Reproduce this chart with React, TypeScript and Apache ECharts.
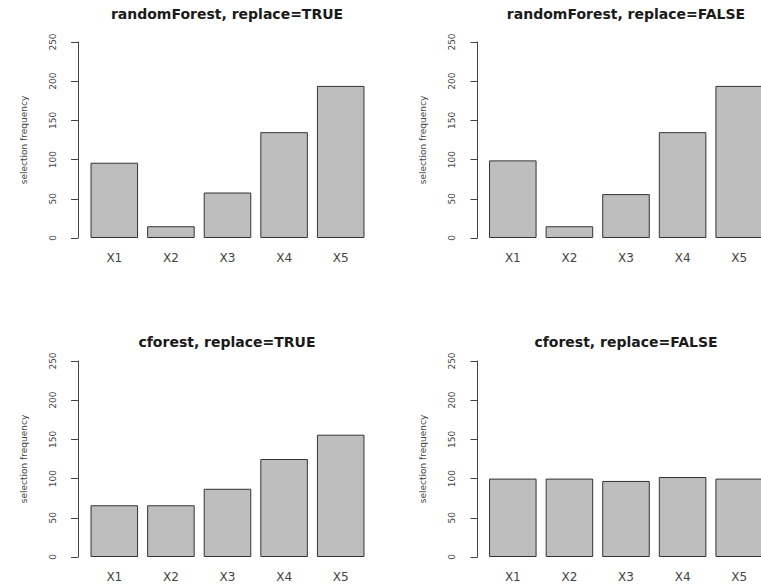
import React, { useEffect, useRef } from "react";
import * as echarts from "echarts";

const categories = ["X1", "X2", "X3", "X4", "X5"];
const titles = [
  "randomForest, replace=TRUE",
  "randomForest, replace=FALSE",
  "cforest, replace=TRUE",
  "cforest, replace=FALSE",
];
const rfTrue = [96, 15, 58, 135, 194];
const rfFalse = [99, 15, 56, 135, 194];
const cfTrue = [66, 66, 87, 125, 156];
const cfFalse = [100, 100, 97, 102, 100];
const seriesValues = [rfTrue, rfFalse, cfTrue, cfFalse];
const yTicks = { min: 0, max: 250, interval: 50 };
const yName = "selection frequency";

const FONT = "'DejaVu Sans', 'Liberation Sans', Arial, sans-serif";

export default function App() {
  const ref = useRef<HTMLDivElement>(null);
  useEffect(() => {
    if (!ref.current) return;
    document.body.style.overflow = "hidden";
    const chart = echarts.init(ref.current, null, { renderer: "svg" });
    const panels = [
      { left: 86, top: 42, offset: 8, titleX: 227, titleY: 7 },
      { left: 484.5, top: 42, offset: 7, titleX: 626, titleY: 7 },
      { left: 86, top: 361, offset: 8, titleX: 227, titleY: 335 },
      { left: 484.5, top: 361, offset: 7, titleX: 626, titleY: 335 },
    ];
    const option: any = {
      animation: false,
      backgroundColor: "#ffffff",
      title: panels.map((p, i) => ({
        text: titles[i],
        left: p.titleX,
        top: p.titleY,
        textAlign: "center",
        padding: 0,
        textStyle: { fontFamily: FONT, fontSize: 14, fontWeight: "bold", color: "#1a1a1a" },
      })),
      grid: panels.map((p) => ({ left: p.left, top: p.top, width: 283, height: 196, containLabel: false })),
      xAxis: panels.map((_, i) => ({
        type: "category",
        gridIndex: i,
        data: categories,
        axisLine: { show: false },
        axisTick: { show: false },
        axisLabel: { fontFamily: FONT, fontSize: 12, color: "#444", margin: 14 },
      })),
      yAxis: panels.map((p, i) => ({
        type: "value",
        gridIndex: i,
        min: yTicks.min,
        max: yTicks.max,
        interval: yTicks.interval,
        offset: p.offset,
        name: yName,
        nameLocation: "middle",
        nameGap: 50,
        nameTextStyle: { fontFamily: FONT, fontSize: 9, color: "#444" },
        axisLine: { show: true, lineStyle: { color: "#444", width: 1 } },
        axisTick: { show: true, length: 7, lineStyle: { color: "#444" } },
        axisLabel: { rotate: 90, fontFamily: FONT, fontSize: 9, color: "#444", margin: 21 },
        splitLine: { show: false },
      })),
      series: seriesValues.map((vals, i) => ({
        type: "bar",
        xAxisIndex: i,
        yAxisIndex: i,
        data: vals,
        barCategoryGap: "16%",
        itemStyle: { color: "#BEBEBE", borderColor: "#333", borderWidth: 1 },
      })),
    };
    chart.setOption(option);
    return () => chart.dispose();
  }, []);
  return (
    <div
      ref={ref}
      style={{ position: "fixed", left: 0, top: 0, width: 772, height: 585, background: "#fff" }}
    />
  );
}
